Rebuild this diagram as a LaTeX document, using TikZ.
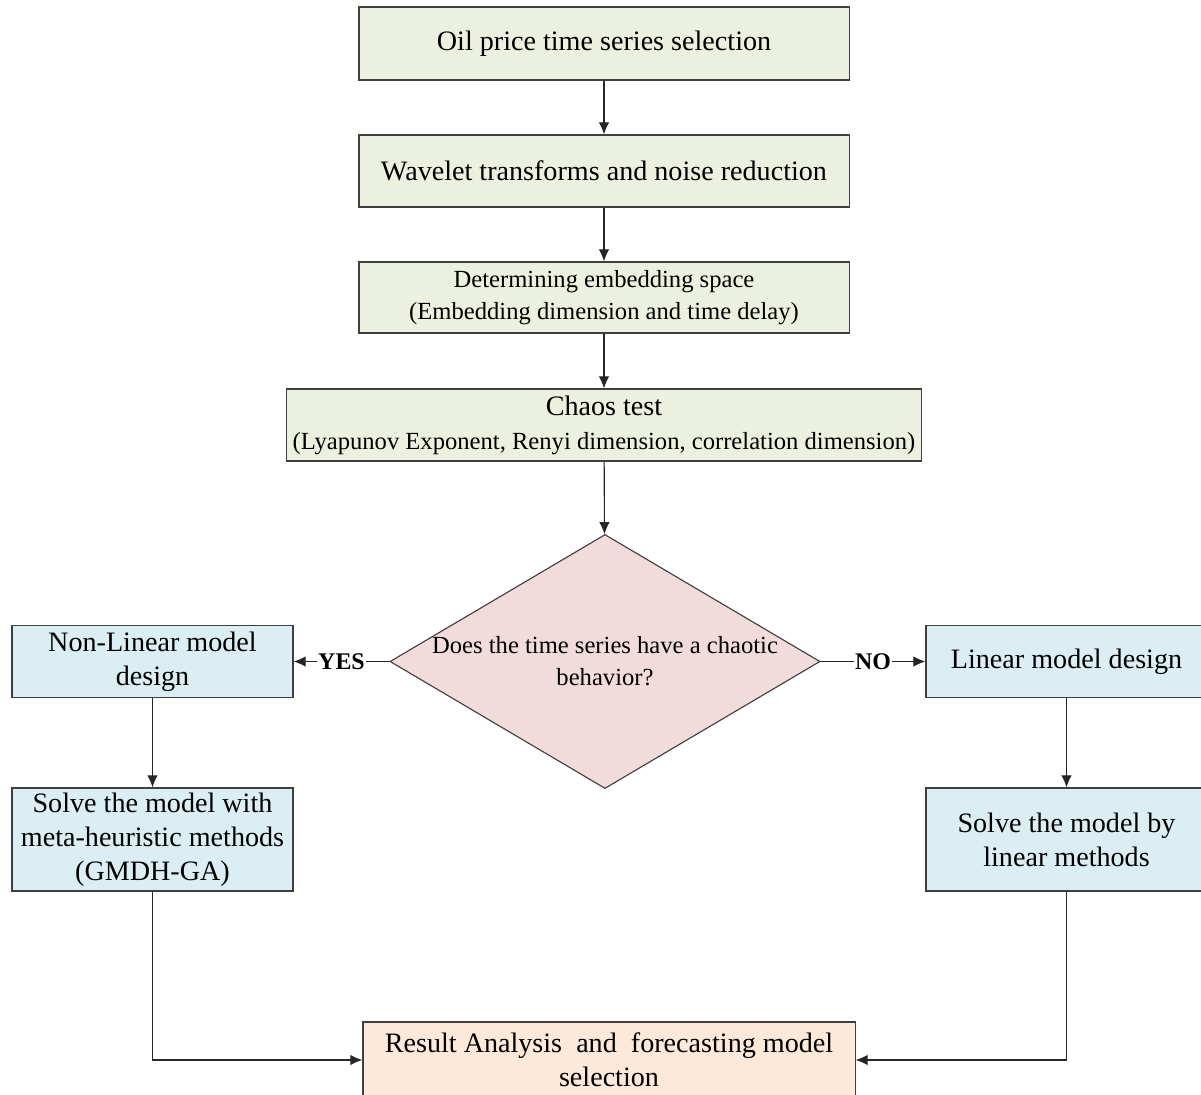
\documentclass[tikz,border=0pt]{standalone}
\usepackage{fontspec}
\setmainfont{Liberation Serif}
\usepackage{tikz}
\usetikzlibrary{arrows.meta}
\usetikzlibrary{shapes}
\usetikzlibrary{positioning}

\definecolor{boxgreen}{HTML}{EBF1DE}
\definecolor{boxblue}{HTML}{DBEEF4}
\definecolor{boxred}{HTML}{F2DCDB}
\definecolor{boxorange}{HTML}{FDE9D9}
\definecolor{lineclr}{HTML}{3F3F3F}

\begin{document}
\begin{tikzpicture}[x=0.025cm,y=-0.025cm]
        \useasboundingbox (0,0) rectangle (1201,1095);
        \begin{scope}[every node/.style={rectangle,draw=lineclr,line width=0.8pt,align=center,inner sep=0pt,
            font=\fontsize{20}{24.2}\selectfont}]
            \node[fill=boxgreen,minimum width=12.25cm,minimum height=1.825cm] (1) at (604,43.5) {Oil price time series selection};
            \node[fill=boxgreen,minimum width=12.25cm,minimum height=1.8cm] (2) at (604,171) {Wavelet transforms and noise reduction};
            \node[fill=boxgreen,minimum width=12.25cm,minimum height=1.775cm,font=\fontsize{17.5}{22.8}\selectfont] (3) at (604,297.5)
                {Determining embedding space\\(Embedding dimension and time delay)};
            \node[fill=boxgreen,minimum width=15.875cm,minimum height=1.8cm] (4) at (604,425)
                {Chaos test\\{\fontsize{17.5}{22.8}\selectfont(Lyapunov Exponent, Renyi dimension, correlation dimension)}};
            \node[diamond,fill=boxred,minimum width=10.75cm,minimum height=6.35cm] (5) at (605,661.5) {};
            \node[fill=boxblue,minimum width=7.025cm,minimum height=1.8cm] (6) at (152.5,661.5) {Non-Linear model\\design};
            \node[fill=boxblue,minimum width=7.025cm,minimum height=1.8cm] (7) at (1066.5,661.5) {Linear model design};
            \node[fill=boxblue,minimum width=7.025cm,minimum height=2.575cm] (8) at (152.5,839.5)
                {Solve the model with\\meta-heuristic methods\\(GMDH-GA)};
            \node[fill=boxblue,minimum width=7.025cm,minimum height=2.575cm] (9) at (1066.5,839.5) {Solve the model by\\linear methods};
            \node[fill=boxorange,minimum width=12.3cm,minimum height=1.9cm] (10) at (609,1060)
                {Result Analysis\ \ and\ \ forecasting model\\selection};
        \end{scope}
        \node[align=center,font=\fontsize{17.5}{22.8}\selectfont] (5t) at (5.center) {Does the time series have a chaotic\\behavior?};
        \begin{scope}[>={Latex[length=3mm,width=2.6mm]},
            every edge/.style={draw=black!85,line width=0.8pt}]
                    \path[->] (1) edge node {} (2);
                    \path[->] (2) edge node {} (3);
                    \path[->] (3) edge node {} (4);
                    \path[->] (4) edge node {} (5);
                    \path[->] (5.west) edge node[fill=white,inner sep=1pt,font=\fontsize{17}{20}\bfseries] {YES} (6.east);
                    \path[->] (5.east) edge node[fill=white,inner sep=1pt,font=\fontsize{17}{20}\bfseries] {NO} (7.west);
                    \path[->] (6) edge node {} (8);
                    \path[->] (7) edge node {} (9);
                    \draw[->,draw=black!85,line width=0.8pt] (8.south) |- (10.west);
                    \draw[->,draw=black!85,line width=0.8pt] (9.south) |- (10.east);
        \end{scope}
    \end{tikzpicture}
\end{document}
